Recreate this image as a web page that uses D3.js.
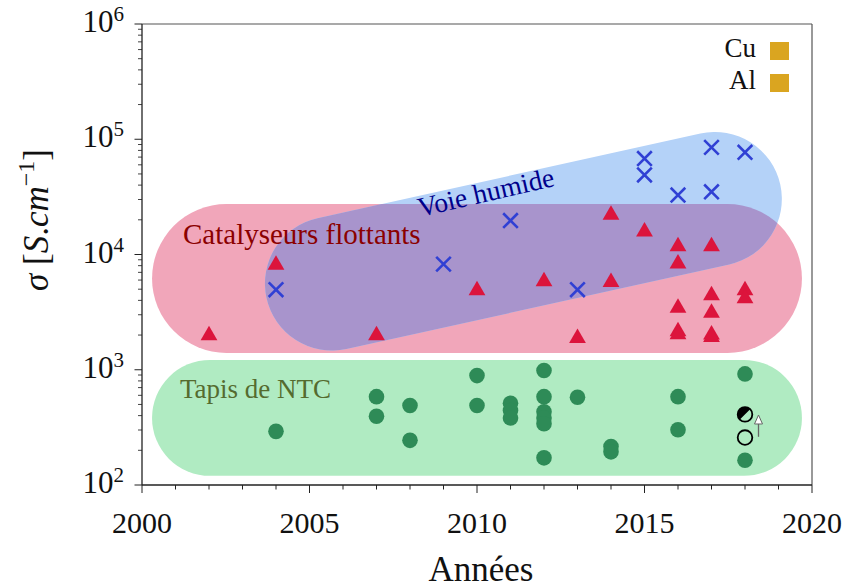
<!DOCTYPE html>
<html>
<head>
<meta charset="utf-8">
<script src="https://cdn.jsdelivr.net/npm/d3@7"></script>
<style>
  html, body { margin: 0; padding: 0; background: #fff; }
  svg { display: block; }
</style>
</head>
<body>
<svg id="chart" width="847" height="588" font-family="'Liberation Serif', 'DejaVu Serif', serif"></svg>
<script>
// ---------------- DATA ----------------
// Catalyseurs flottants (triangles)
const triYears  = [2002, 2004, 2007, 2010, 2012, 2013, 2014, 2014, 2015, 2016, 2016, 2016, 2016, 2016, 2017, 2017, 2017, 2017, 2017, 2018, 2018];
const triValues = [2070, 8500, 2070, 5100, 6100, 1960, 23000, 6000, 16500, 12300, 8700, 3600, 2250, 2120, 12300, 4600, 3250, 2100, 2000, 5100, 4350];
// Voie humide (crosses)
const crossYears  = [2004, 2009, 2011, 2013, 2015, 2015, 2016, 2017, 2017, 2018];
const crossValues = [4950, 8250, 19700, 4950, 68000, 49000, 32800, 85000, 35000, 77000];
// Tapis de NTC (circles)
const circYears  = [2004, 2007, 2007, 2008, 2008, 2010, 2010, 2011, 2011, 2011, 2012, 2012, 2012, 2012, 2012, 2012, 2013, 2014, 2014, 2016, 2016, 2018, 2018];
const circValues = [292, 584, 395, 490, 244, 890, 490, 512, 442, 382, 985, 584, 432, 382, 340, 172, 577, 216, 194, 584, 302, 920, 164];
// Special markers (2018)
const specialYear = 2018;
const halfValue = 410;
const openValue = 258;
const arrowFrom = 262, arrowTo = 405;

// Regions: [x start, x end] (years), [bottom, top] (S/cm)
const greenXs = [2000.3, 2019.7], greenYs = [120, 1216];
const pinkXs  = [2000.3, 2019.7], pinkYs  = [1400, 27400];
// Voie humide capsule: centre line end points
const blueYears  = [2005.67, 2017.1];
const blueValues = [5590, 30300];

// Legend
const legendLabels = ["Cu", "Al"];

// Ticks
const xTicks = [2000, 2005, 2010, 2015, 2020];
const yTickExps = [2, 3, 4, 5, 6];

// ---------------- LAYOUT ----------------
const W = 847, H = 588;
const M = {left: 142, top: 24, right: 35, bottom: 103};
const iw = W - M.left - M.right, ih = H - M.top - M.bottom;

const svg = d3.select("#chart");
const x = d3.scaleLinear().domain([2000, 2020]).range([M.left, M.left + iw]);
const y = d3.scaleLog().domain([1e2, 1e6]).range([M.top + ih, M.top]);

const colGreen = "#b0ebc2", colPink = "#f1a6ba", colBlue = "#b4d2f8", colPurple = "#a894cc";

// ---------------- REGIONS ----------------
function stadium(sel, xs, ys, fill) {
  const x0 = x(xs[0]), x1 = x(xs[1]), yt = y(ys[1]), yb = y(ys[0]);
  const h = yb - yt;
  return sel.append("rect").attr("x", x0).attr("y", yt).attr("width", x1 - x0).attr("height", h)
    .attr("rx", h / 2).attr("ry", h / 2).attr("fill", fill);
}
function capsulePath(ax, ay, bx, by, r) {
  const dx = bx - ax, dy = by - ay, L = Math.hypot(dx, dy);
  const ux = dx / L, uy = dy / L, nx = -uy, ny = ux;
  return `M${ax + nx * r},${ay + ny * r} L${bx + nx * r},${by + ny * r} ` +
         `A${r},${r} 0 0 0 ${bx - nx * r},${by - ny * r} L${ax - nx * r},${ay - ny * r} ` +
         `A${r},${r} 0 0 0 ${ax + nx * r},${ay + ny * r} Z`;
}

const defs = svg.append("defs");
const gReg = svg.append("g");
stadium(gReg, greenXs, greenYs, colGreen);
stadium(gReg, pinkXs, pinkYs, colPink);
const bluePath = capsulePath(x(blueYears[0]), y(blueValues[0]), x(blueYears[1]), y(blueValues[1]), 67);
gReg.append("path").attr("d", bluePath).attr("fill", colBlue);
const clip = defs.append("clipPath").attr("id", "pinkClip");
stadium(clip, pinkXs, pinkYs, "#000");
gReg.append("path").attr("d", bluePath).attr("fill", colPurple).attr("clip-path", "url(#pinkClip)");

// Region labels
svg.append("text").attr("x", 183).attr("y", 244).attr("font-size", 29).attr("fill", "#8b0000")
  .text("Catalyseurs flottants");
svg.append("text").attr("x", 180).attr("y", 398).attr("font-size", 27).attr("fill", "#556b2f")
  .text("Tapis de NTC");
svg.append("text").attr("transform", "translate(420,217) rotate(-13)").attr("font-size", 27.5)
  .attr("fill", "#00008b").text("Voie humide");

// ---------------- AXES ----------------
const gAx = svg.append("g");
// frame
gAx.append("line").attr("x1", M.left).attr("x2", M.left + iw).attr("y1", M.top).attr("y2", M.top).attr("stroke", "#555").attr("stroke-width", 1.2);
gAx.append("line").attr("x1", M.left + iw).attr("x2", M.left + iw).attr("y1", M.top).attr("y2", M.top + ih).attr("stroke", "#555").attr("stroke-width", 1.2);

// x axis
const xMinor = d3.range(2000, 2021);
gAx.selectAll(".xminor").data(xMinor).join("line")
  .attr("x1", d => x(d)).attr("x2", d => x(d)).attr("y1", M.top + ih).attr("y2", d => M.top + ih + (d % 5 === 0 ? 8 : 4.5))
  .attr("stroke", "#222").attr("stroke-width", 1);
gAx.selectAll(".xlab").data(xTicks).join("text")
  .attr("x", d => x(d)).attr("y", 533).attr("text-anchor", "middle").attr("font-size", 30).attr("fill", "#111")
  .text(d => d);
gAx.append("line").attr("x1", M.left).attr("x2", M.left + iw).attr("y1", M.top + ih).attr("y2", M.top + ih).attr("stroke", "#222").attr("stroke-width", 1.3);

// y axis
const yMinor = [];
for (let e = 2; e < 6; e++) for (let k = 2; k <= 9; k++) yMinor.push(k * Math.pow(10, e));
gAx.selectAll(".yminor").data(yMinor).join("line")
  .attr("x1", M.left - 4).attr("x2", M.left).attr("y1", d => y(d)).attr("y2", d => y(d))
  .attr("stroke", "#444").attr("stroke-width", 1);
gAx.selectAll(".ymajor").data(yTickExps).join("line")
  .attr("x1", M.left - 7.5).attr("x2", M.left).attr("y1", d => y(Math.pow(10, d))).attr("y2", d => y(Math.pow(10, d)))
  .attr("stroke", "#222").attr("stroke-width", 1);
const ylab = gAx.selectAll(".ylab").data(yTickExps).join("text")
  .attr("x", 124).attr("y", d => y(Math.pow(10, d)) + 8).attr("text-anchor", "end").attr("font-size", 31).attr("fill", "#111");
ylab.append("tspan").text("10");
ylab.append("tspan").attr("dy", -11).attr("font-size", 21).text(d => d);
gAx.append("line").attr("x1", M.left).attr("x2", M.left).attr("y1", M.top).attr("y2", M.top + ih).attr("stroke", "#222").attr("stroke-width", 1.3);

// axis titles
svg.append("text").attr("x", 481).attr("y", 581).attr("text-anchor", "middle").attr("font-size", 35).attr("fill", "#111").text("Années");
const yt = svg.append("text").attr("transform", "translate(48,220) rotate(-90)").attr("text-anchor", "middle").attr("font-size", 35).attr("fill", "#111");
yt.append("tspan").attr("font-style", "italic").text("σ");
yt.append("tspan").text(" [");
yt.append("tspan").attr("font-style", "italic").text("S");
yt.append("tspan").text(".");
yt.append("tspan").attr("font-style", "italic").text("cm");
yt.append("tspan").attr("dy", -14).attr("font-size", 24).text("−1");
yt.append("tspan").attr("dy", 14).text("]");

// ---------------- MARKERS ----------------
const gM = svg.append("g");
gM.selectAll(".tri").data(triYears.map((d, i) => [d, triValues[i]])).join("path")
  .attr("transform", d => `translate(${x(d[0])},${y(d[1])})`)
  .attr("d", "M0,-7.5 L8.4,7 L-8.4,7 Z").attr("fill", "#dc143c");
gM.selectAll(".cross").data(crossYears.map((d, i) => [d, crossValues[i]])).join("path")
  .attr("transform", d => `translate(${x(d[0])},${y(d[1])})`)
  .attr("d", "M-7.3,-7.3 L7.3,7.3 M-7.3,7.3 L7.3,-7.3").attr("stroke", "#3040d4").attr("stroke-width", 2.6).attr("fill", "none");
gM.selectAll(".circ").data(circYears.map((d, i) => [d, circValues[i]])).join("circle")
  .attr("cx", d => x(d[0])).attr("cy", d => y(d[1])).attr("r", 7.8).attr("fill", "#2e8b57");

// special markers
const sx = x(specialYear);
const hy = y(halfValue), r0 = 7.3;
const a1 = -Math.PI / 4;
gM.append("path")
  .attr("d", `M${sx + r0 * Math.cos(a1)},${hy + r0 * Math.sin(a1)} A${r0},${r0} 0 0 0 ${sx - r0 * Math.cos(a1)},${hy - r0 * Math.sin(a1)} Z`)
  .attr("fill", "#000");
gM.append("circle").attr("cx", sx).attr("cy", hy).attr("r", r0).attr("fill", "none").attr("stroke", "#000").attr("stroke-width", 1.8);
gM.append("circle").attr("cx", sx).attr("cy", y(openValue)).attr("r", r0).attr("fill", "none").attr("stroke", "#000").attr("stroke-width", 1.8);
// arrow
const ax = sx + 13.5, ay0 = y(arrowFrom), ay1 = y(arrowTo);
gM.append("line").attr("x1", ax).attr("x2", ax).attr("y1", ay0).attr("y2", ay1 + 9).attr("stroke", "#666").attr("stroke-width", 1.3);
gM.append("path").attr("d", `M${ax},${ay1} L${ax + 4},${ay1 + 9} L${ax - 4},${ay1 + 9} Z`)
  .attr("fill", "#fff").attr("stroke", "#666").attr("stroke-width", 1);

// ---------------- LEGEND ----------------
const gL = svg.append("g");
legendLabels.forEach((lab, i) => {
  const cy = 51 + i * 32;
  gL.append("text").attr("x", 756).attr("y", cy + 6).attr("text-anchor", "end").attr("font-size", 27).attr("fill", "#111").text(lab);
  gL.append("rect").attr("x", 770).attr("y", cy - 9).attr("width", 19).attr("height", 18).attr("fill", "#daa520");
});
</script>
</body>
</html>
